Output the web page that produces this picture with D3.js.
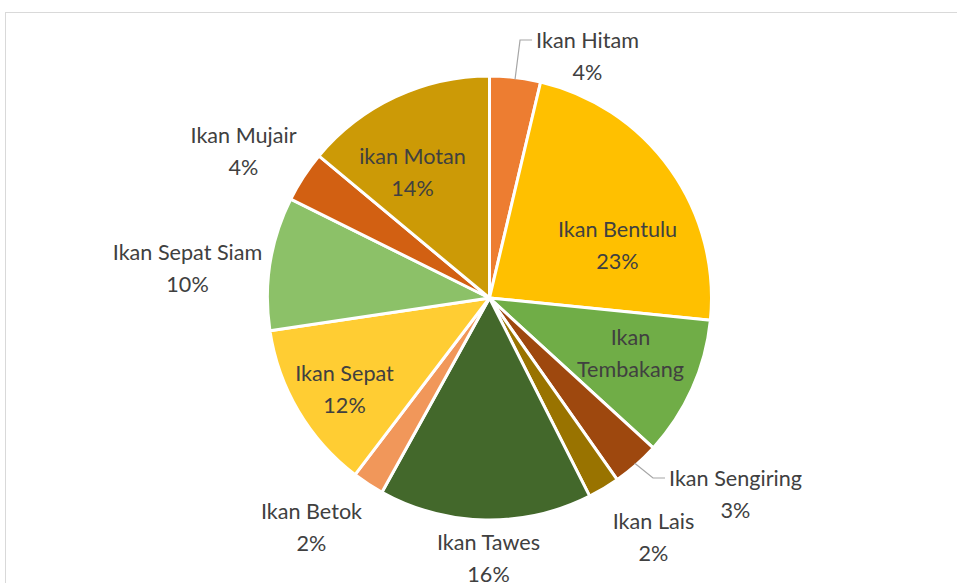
<!DOCTYPE html>
<html><head><meta charset="utf-8">
<script src="https://cdn.jsdelivr.net/npm/d3@7"></script>
<style>
html,body{margin:0;padding:0;background:#fff;}
svg{display:block;}
text{font-family:Lato,"Liberation Sans",sans-serif;fill:#404040;}
</style></head>
<body>
<svg id="chart" width="957" height="583"></svg>
<script>
// ---- data ----
const categories = ["Ikan Hitam","Ikan Bentulu","Ikan Tembakang","Ikan Sengiring","Ikan Lais","Ikan Tawes","Ikan Betok","Ikan Sepat","Ikan Sepat Siam","Ikan Mujair","ikan Motan"];
const values = [3.7, 22.9, 10.2, 3.45, 2.3, 15.5, 2.3, 12.3, 9.7, 3.7, 13.95];
const colors = ["#ED7D31","#FFC000","#70AD47","#9E480E","#997300","#43682B","#F1975A","#FFCD33","#8CC168","#D26012","#CC9A06"];
const showPercent = [true,true,false,true,true,true,true,true,true,true,true];

// ---- layout (label block centres relative to pie centre, name line wrap) ----
const labelLayout = [
  {dx:98, dy:-242, leader:true},
  {dx:128, dy:-53},
  {dx:141, dy:55, lines:["Ikan","Tembakang"]},
  {dx:246, dy:196, leader:true},
  {dx:164, dy:239},
  {dx:-1, dy:260},
  {dx:-178, dy:229},
  {dx:-145, dy:91},
  {dx:-302, dy:-30},
  {dx:-246, dy:-147},
  {dx:-77, dy:-126}
];

const svg = d3.select("#chart");
const cx = 489.5, cy = 298, R = 222;

// frame
svg.append("rect").attr("x",5.5).attr("y",12.5).attr("width",1000).attr("height",700)
  .attr("fill","none").attr("stroke","#d9d9d9").attr("stroke-width",1);

const g = svg.append("g").attr("transform",`translate(${cx},${cy})`);
const total = d3.sum(values);
const pie = d3.pie().sort(null).value(d => d);
const arcs = pie(values);
const arc = d3.arc().innerRadius(0).outerRadius(R);

g.selectAll("path.slice").data(arcs).join("path")
  .attr("class","slice")
  .attr("d", arc)
  .attr("fill",(d,i)=>colors[i])
  .attr("stroke","#fff").attr("stroke-width",3).attr("stroke-linejoin","round");

const fmt = d3.format(".0%");
const lineGap = 32;
arcs.forEach((d,i) => {
  const L = labelLayout[i];
  const lines = (L.lines ? L.lines.slice() : [categories[i]]);
  if (showPercent[i]) lines.push(fmt(values[i]/total));
  const n = lines.length;
  const t = g.append("text").attr("text-anchor","middle").attr("font-size","21.6px");
  lines.forEach((s,k) => {
    t.append("tspan").attr("x",L.dx)
      .attr("y", L.dy + (k-(n-1)/2)*lineGap)
      .attr("dy","0.36em").text(s);
  });
  if (L.leader) {
    const mid = (d.startAngle + d.endAngle)/2;
    const p0 = [Math.sin(mid)*(R-2), -Math.cos(mid)*(R-2)];
    const firstY = L.dy - (n-1)/2*lineGap;
    const w = t.select("tspan").node().getComputedTextLength();
    const xl = L.dx - w/2 - 4;
    const p1 = [xl - 12, firstY];
    const p2 = [xl, firstY];
    g.append("polyline").attr("points",[p0,p1,p2].map(p=>p.join(",")).join(" "))
      .attr("fill","none").attr("stroke","#a6a6a6").attr("stroke-width",1.2);
  }
});
</script>
</body></html>
